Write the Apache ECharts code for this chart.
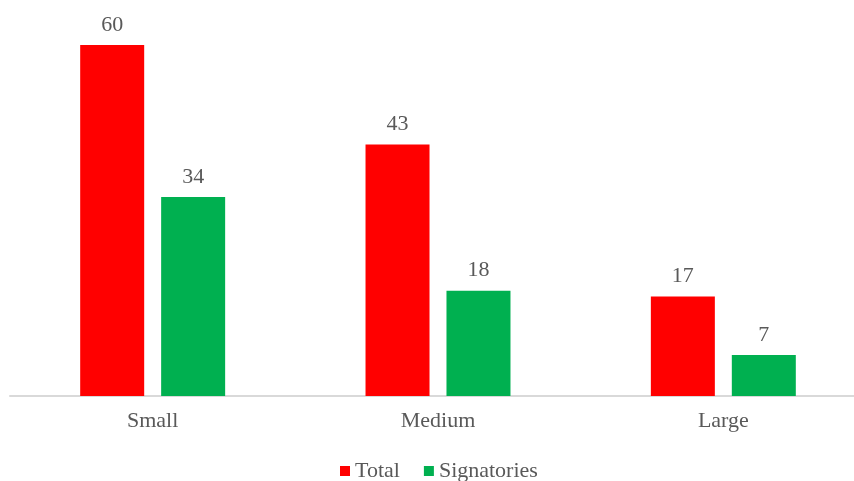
<!DOCTYPE html>
<html>
<head>
<meta charset="utf-8">
<script src="https://cdn.jsdelivr.net/npm/echarts@6/dist/echarts.min.js"></script>
<style>
html,body{margin:0;padding:0;background:#fff;}
#chart{width:854px;height:481px;}
</style>
</head>
<body>
<div id="chart"></div>
<script>
const categories = ['Small', 'Medium', 'Large'];
const totalValues = [60, 43, 17];
const signatoryValues = [34, 18, 7];
const seriesNames = ['Total', 'Signatories'];

const FONT = '"Liberation Serif", "Times New Roman", serif';
const TEXT = '#595959';

const chart = echarts.init(document.getElementById('chart'));
chart.setOption({
  animation: false,
  backgroundColor: '#ffffff',
  textStyle: { fontFamily: FONT },
  legend: {
    data: seriesNames,
    top: 455,
    left: 335,
    itemWidth: 10,
    itemHeight: 10,
    itemGap: 24,
    icon: 'rect',
    textStyle: { fontFamily: FONT, fontSize: 22, color: TEXT }
  },
  grid: { left: 10, right: -12, top: 45, bottom: 85, containLabel: false, outerBoundsMode: 'none' },
  xAxis: {
    type: 'category',
    data: categories,
    axisTick: { show: false },
    axisLine: { lineStyle: { color: '#d9d9d9', width: 2 } },
    axisLabel: { fontFamily: FONT, fontSize: 22, color: TEXT, margin: 14 }
  },
  yAxis: {
    type: 'value',
    min: 0,
    max: 60,
    show: false,
    splitLine: { show: false }
  },
  series: [
    {
      name: seriesNames[0],
      type: 'bar',
      data: totalValues,
      barWidth: 64,
      barGap: '26.5%',
      itemStyle: { color: '#FF0000' },
      label: { show: true, position: 'top', distance: 9, fontFamily: FONT, fontSize: 22, color: TEXT }
    },
    {
      name: seriesNames[1],
      type: 'bar',
      data: signatoryValues,
      barWidth: 64,
      barGap: '26.5%',
      itemStyle: { color: '#00B050' },
      label: { show: true, position: 'top', distance: 9, fontFamily: FONT, fontSize: 22, color: TEXT }
    }
  ]
});
</script>
</body>
</html>
